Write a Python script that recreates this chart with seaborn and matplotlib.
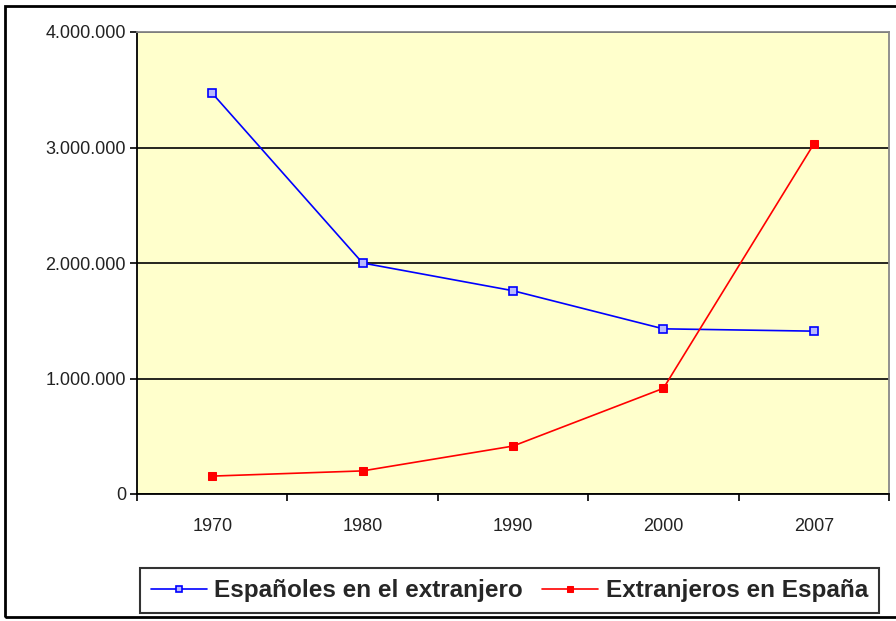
import numpy as np
import pandas as pd
import matplotlib
matplotlib.use("Agg")
import matplotlib.pyplot as plt
from matplotlib.ticker import FuncFormatter, FixedLocator
from matplotlib.patches import Rectangle
import seaborn as sns

# data
years = ["1970", "1980", "1990", "2000", "2007"]
espanoles_fuera = [3470000, 2000000, 1760000, 1430000, 1410000]
extranjeros_espana = [155000, 200000, 415000, 915000, 3030000]

sns.set_theme(style="white")
plt.rcParams["font.family"] = ["Liberation Sans", "DejaVu Sans"]

fig = plt.figure(figsize=(8.96, 6.21), dpi=100)
ax = fig.add_axes([137 / 896, 127 / 621, 752 / 896, 462 / 621])
ax.set_facecolor("#FFFFCC")

sns.lineplot(x=years, y=espanoles_fuera, ax=ax, color="#0000FF", lw=1.2,
             marker="s", markersize=5.5, markerfacecolor="#B8B8FF",
             markeredgecolor="#0000FF", markeredgewidth=1.2,
             label="Españoles en el extranjero")
sns.lineplot(x=years, y=extranjeros_espana, ax=ax, color="#FF0000", lw=1.2,
             marker="s", markersize=5.5, markerfacecolor="#FF0000",
             markeredgecolor="#FF0000",
             label="Extranjeros en España")

ax.set_xlim(-0.5, 4.5)
ax.set_ylim(0, 4000000)
ax.set_yticks([0, 1000000, 2000000, 3000000, 4000000])
ax.yaxis.set_major_formatter(FuncFormatter(lambda v, p: f"{int(v):,}".replace(",", ".")))
ax.yaxis.grid(True, color="black", lw=1.2)
ax.set_axisbelow(True)

# ticks between categories, labels centered
ax.tick_params(axis="x", which="major", length=0, pad=17, labelsize=13, colors="#222222")
ax.xaxis.set_minor_locator(FixedLocator(np.arange(-0.5, 5, 1)))
ax.tick_params(axis="x", which="minor", length=5, width=1.2, color="black", direction="out", bottom=True)
ax.tick_params(axis="y", length=5, width=1.2, color="black", direction="out", left=True,
               labelsize=13, colors="#222222", pad=3)
ax.set_xlabel("")
ax.set_ylabel("")

for side in ["left", "bottom"]:
    ax.spines[side].set_color("black")
    ax.spines[side].set_linewidth(1.3)
for side in ["top", "right"]:
    ax.spines[side].set_color("#888888")
    ax.spines[side].set_linewidth(1.3)

ax.get_legend().remove()
handles, labels = ax.get_legend_handles_labels()
leg = fig.legend(handles, labels, loc="lower left", bbox_to_anchor=(140 / 896, 8 / 621),
                 ncol=2, frameon=True, fancybox=False, edgecolor="black",
                 prop={"weight": "bold", "size": 17.5}, handlelength=2.3,
                 handletextpad=0.3, columnspacing=0.8, borderpad=0.45,
                 borderaxespad=0)
leg.get_frame().set_linewidth(1.5)
for h in leg.legend_handles:
    h.set_markersize(4)

# outer frame of the chart
fig.patches.append(Rectangle((5 / 896, 4 / 621), 900 / 896, 611 / 621, transform=fig.transFigure,
                             fill=False, edgecolor="black", lw=2))

fig.savefig("out.png", dpi=100)
